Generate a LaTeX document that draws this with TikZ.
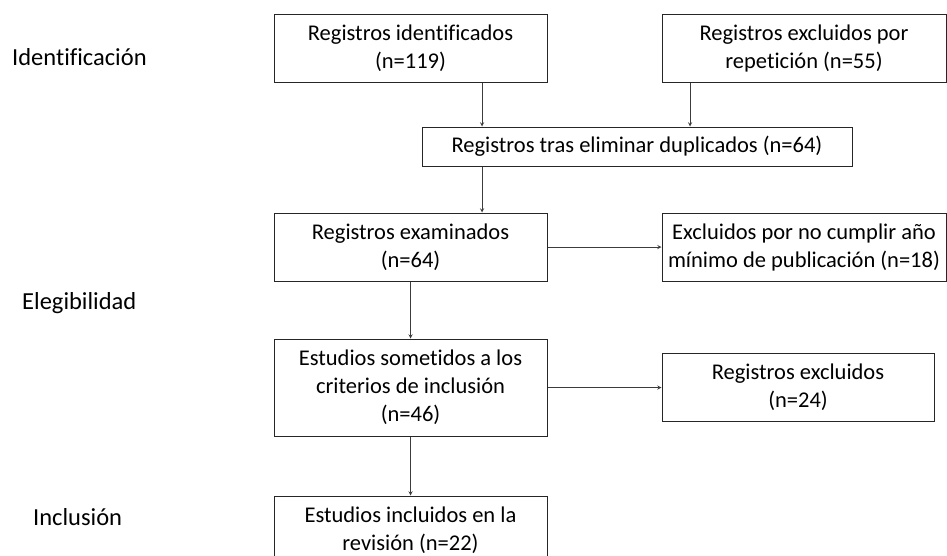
\documentclass[tikz,border=0pt]{standalone}
\usepackage{fontspec}
\setmainfont{Carlito}[RawFeature={-liga;-clig;-dlig;-calt;-rlig}]
\usetikzlibrary{arrows, positioning}
\tikzset{>=stealth}
\definecolor{linea}{RGB}{60,60,60}
\tikzset{caja/.style={draw=black!85, line width=1pt, align=center, inner sep=0pt, minimum width=273pt, minimum height=68pt, font=\fontsize{22.5}{28}\selectfont},
	fase/.style={anchor=west, inner sep=0pt, font=\fontsize{24.5}{28}\selectfont},
	flecha/.style={->, draw=linea, line width=0.9pt}}

\begin{document}
\begin{tikzpicture}[x=1pt, y=-1pt]
	\useasboundingbox (0,0) rectangle (947,555);
	% fases
	\node [fase] (fid) at (12,57) {Identificación};
	\node [fase] (feleg) at (22,303) {Elegibilidad};
	\node [fase] (fincl) at (33,517) {Inclusión};
	% cajas
	\node [caja] (ident) at (410.5,48) {Registros identificados\\(n=119)};
	\node [caja, minimum width=284pt] (repet) at (804,48) {Registros excluidos por\\repetición (n=55)};
	\node [caja, minimum width=430pt, minimum height=39pt] (dupl) at (637,146.5) {Registros tras eliminar duplicados (n=64)};
	\node [caja] (exam) at (410.5,247) {Registros examinados\\(n=64)};
	\node [caja, minimum width=284pt] (anio) at (804,247) {Excluidos por no cumplir año\\mínimo de publicación (n=18)};
	\node [caja, minimum height=97pt] (crit) at (410.5,387.5) {Estudios sometidos a los\\criterios de inclusión\\(n=46)};
	\node [caja, minimum width=272pt] (excl) at (798,387) {Registros excluidos\\(n=24)};
	\node [caja] (incl) at (410.5,530) {Estudios incluidos en la\\revisión (n=22)};
	% flechas
	\draw [flecha] ([xshift=71.5pt]ident.south) -- ([xshift=71.5pt]ident.south |- dupl.north);
	\draw [flecha] ([xshift=-114pt]repet.south) -- ([xshift=-114pt]repet.south |- dupl.north);
	\draw [flecha] ([xshift=-155pt]dupl.south) -- ([xshift=-155pt]dupl.south |- exam.north);
	\draw [flecha] (exam.east) -- (anio.west);
	\draw [flecha] (exam.south) -- (crit.north);
	\draw [flecha] (crit.east) -- (crit.east -| excl.west);
	\draw [flecha] (crit.south) -- (incl.north);
\end{tikzpicture}
\end{document}
